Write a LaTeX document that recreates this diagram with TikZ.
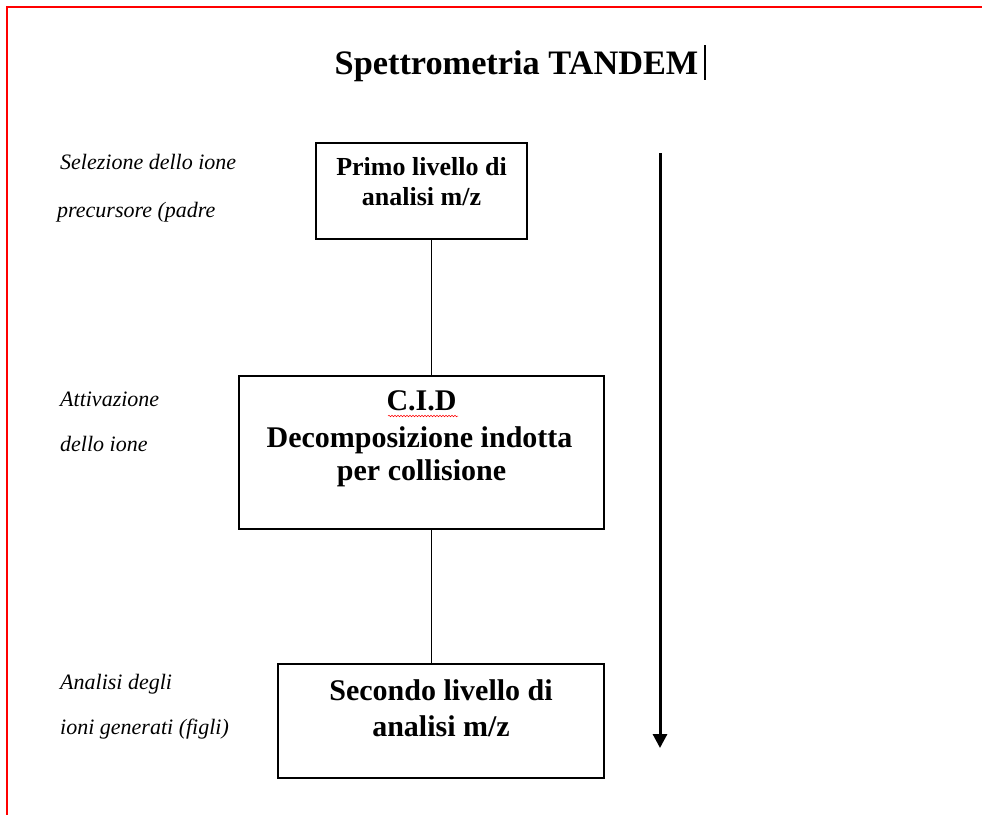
\documentclass[tikz,border=0pt]{standalone}
\usepackage{fontspec}
\setmainfont{Liberation Serif}
\usetikzlibrary{arrows.meta,decorations.pathmorphing}
\tikzset{
  box/.style={draw, line width=1.1pt, rectangle, inner sep=0pt},
  conn/.style={line width=0.9pt},
  btxt/.style={font=\bfseries\fontsize{#1}{#1}\selectfont, anchor=base, inner sep=0pt},
  lbl/.style={font=\itshape\fontsize{22}{22}\selectfont, anchor=base west, inner sep=0pt},
  page/.style={draw=red, line width=2pt}
}
\begin{document}
\begin{tikzpicture}[x=1pt,y=-1pt]
\useasboundingbox (0,0) rectangle (982,815);
% page edges
\draw[page] (6,7) -- (982,7);
\draw[page] (7,7) -- (7,815);
% title and cursor
\node[btxt=34.3] (title) at (516.5,74) {Spettrometria TANDEM};
\coordinate (cur1) at (705,45);
\coordinate (cur2) at (705,80);
\draw[line width=1.3pt] (cur1) -- (cur2);
% boxes
\node[box, minimum width=211pt, minimum height=96pt] (b1) at (421.5,191) {};
\node[box, minimum width=365pt, minimum height=153pt] (b2) at (421.5,452.5) {};
\node[box, minimum width=326pt, minimum height=114pt] (b3) at (441,721) {};
% box texts
\node[btxt=26] (t1a) at (421.5,175) {Primo livello di};
\node[btxt=26] (t1b) at (421.5,205) {analisi m/z};
\node[btxt=30] (t2a) at (421.5,410) {C.I.D};
\node[btxt=30] (t2b) at (419.5,447) {Decomposizione indotta};
\node[btxt=30] (t2c) at (421.5,480) {per collisione};
\node[btxt=30] (t3a) at (441,700) {Secondo livello di};
\node[btxt=30] (t3b) at (441,736) {analisi m/z};
% spell-check squiggle under C.I.D
\coordinate (sq1) at (388,416);
\coordinate (sq2) at (458,416);
\draw[red, line width=0.5pt, decorate, decoration={snake, amplitude=0.8pt, segment length=3pt}] (sq1) -- (sq2);
% connectors
\coordinate (cx) at (431,0);
\draw[conn] (b1.south -| cx) -- (b2.north -| cx);
\draw[conn] (b2.south -| cx) -- (b3.north -| cx);
% direction arrow
\coordinate (a1) at (660,153);
\coordinate (a2) at (660,748);
\draw[line width=3pt, -{Triangle[width=14pt,length=14pt]}] (a1) -- (a2);
% side labels
\node[lbl] (l1a) at (60,169) {Selezione dello ione};
\node[lbl] (l1b) at (57,217) {precursore (padre};
\node[lbl] (l2a) at (60,406) {Attivazione};
\node[lbl] (l2b) at (60,451) {dello ione};
\node[lbl] (l3a) at (60,689) {Analisi degli};
\node[lbl] (l3b) at (60,734) {ioni generati (figli)};
\end{tikzpicture}
\end{document}
